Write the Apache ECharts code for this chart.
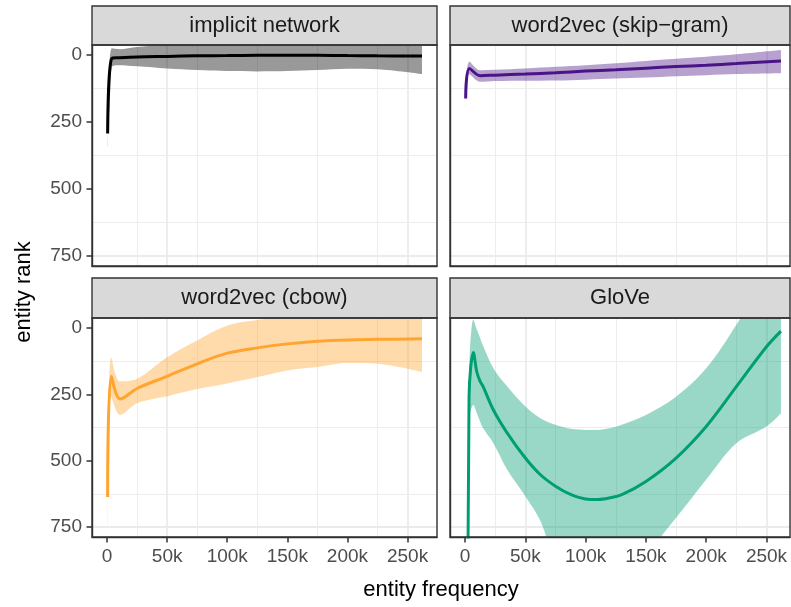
<!DOCTYPE html>
<html>
<head>
<meta charset="utf-8">
<script src="https://cdn.jsdelivr.net/npm/echarts@6/dist/echarts.min.js"></script>
<style>
  html, body { margin: 0; padding: 0; background: #fff; }
  #main { width: 791px; height: 607px; }
</style>
</head>
<body>
<div id="main"></div>
<script>
// tick labels
var xTicks = [0, 50000, 100000, 150000, 200000, 250000];
var yTicks = [0, 250, 500, 750];

// implicit network
var implicitX     = [500, 4000, 10000, 25000, 50000, 75000, 100000, 125000, 150000, 175000, 200000, 225000, 262000];
var implicitLine  = [293, 12, 10, 7, 5, 3, 2, 1, 1, 1, 2, 3, 4];
var implicitUpper = [262, -25, -22, -30, -40, -50, -56, -59, -58, -54, -47, -47, -63];
var implicitLower = [340, 44, 38, 42, 50, 56, 60, 61, 60, 56, 51, 53, 71];

// word2vec (skip-gram)
var skipX     = [500, 3600, 12500, 25000, 50000, 75000, 100000, 125000, 150000, 175000, 200000, 225000, 262000];
var skipLine  = [162, 50, 77, 75, 71, 66, 60, 55, 49, 43, 38, 32, 22];
var skipUpper = [145, 25, 57, 55, 50, 44, 38, 31, 22, 14, 6, -3, -19];
var skipLower = [195, 72, 100, 97, 96, 95, 92, 88, 84, 79, 75, 71, 68];

// word2vec (cbow)
var cbowX     = [500, 3600, 11000, 25000, 50000, 75000, 100000, 125000, 150000, 175000, 200000, 225000, 262000];
var cbowLine  = [637, 182, 268, 228, 182, 135, 95, 75, 60, 50, 45, 43, 41];
var cbowUpper = [590, 110, 201, 191, 110, 47, -9, -30, -40, -45, -42, -50, -84];
var cbowLower = [745, 259, 328, 284, 257, 230, 209, 185, 160, 147, 132, 135, 166];

// GloVe
var gloveX     = [500, 3300, 6900, 9700, 12400, 15000, 23500, 35000, 50000, 62500, 75000, 87500, 100000, 110000, 120000, 130000, 150000, 175000, 200000, 225000, 250000, 262000];
var gloveLine  = [2950, 259, 92, 165, 200, 221, 309, 396, 490, 553, 596, 627, 644, 646, 640, 628, 578, 490, 371, 221, 71, 12];
var gloveUpper = [2800, 200, -32, 5, 37, 68, 152, 221, 296, 340, 365, 380, 384, 384, 378, 365, 328, 259, 152, -12, -200, -297];
var gloveLower = [3100, 350, 290, 320, 352, 378, 434, 534, 634, 727, 871, 890, 904, 908, 902, 891, 845, 715, 571, 434, 371, 321];

var panels = [
  { name: 'implicit network',     color: '#000000', fill: 'rgba(0,0,0,0.4)',        x: implicitX, line: implicitLine, upper: implicitUpper, lower: implicitLower },
  { name: 'word2vec (skip\u2212gram)', color: '#4a1486', fill: 'rgba(74,20,134,0.4)', x: skipX, line: skipLine, upper: skipUpper, lower: skipLower },
  { name: 'word2vec (cbow)',      color: '#FFA42E', fill: 'rgba(255,164,46,0.4)',   x: cbowX, line: cbowLine, upper: cbowUpper, lower: cbowLower },
  { name: 'GloVe',                color: '#009E73', fill: 'rgba(0,158,115,0.4)',    x: gloveX, line: gloveLine, upper: gloveUpper, lower: gloveLower }
];

var FONT = '"Liberation Sans", Arial, Helvetica, sans-serif';
var GRID_COL = '#EBEBEB';
var NONE = 'rgba(0,0,0,0)';
var SMOOTH = 0.35;
var TICK_COL = '#333333';

// panel layout (col, row)
var colLeft = [92, 450], colWidth = [345, 340];
var rowTop = [45, 318], rowHeight = [221, 219];
var stripTop = [6, 278];
var xMax = [274500, 269500];

function cycle(len, idx, col) {
  var a = [];
  for (var i = 0; i < len; i++) a.push(i === idx ? col : NONE);
  return a;
}

function clamp(v, a, b) { return Math.max(Math.min(a, b), Math.min(Math.max(a, b), v)); }

// bezier segments through pixel points, same clamped scheme as echarts' smooth lines
function smoothSegs(pts, s) {
  var n = pts.length, cin = [], cout = [];
  for (var i = 0; i < n; i++) {
    var p = pts[i];
    if (i === 0 || i === n - 1) { cin.push(p); cout.push(p); continue; }
    var pr = pts[i - 1], nx = pts[i + 1];
    var l0 = Math.hypot(p[0] - pr[0], p[1] - pr[1]) || 1e-6;
    var l1 = Math.hypot(nx[0] - p[0], nx[1] - p[1]) || 1e-6;
    var r = l1 / (l0 + l1);
    var ox = clamp(p[0] + (nx[0] - pr[0]) * s * r, p[0], nx[0]);
    var oy = clamp(p[1] + (nx[1] - pr[1]) * s * r, p[1], nx[1]);
    var ix = clamp(p[0] - (ox - p[0]) * l0 / l1, pr[0], p[0]);
    var iy = clamp(p[1] - (oy - p[1]) * l0 / l1, pr[1], p[1]);
    ox = p[0] + (p[0] - ix) * l1 / l0;
    oy = p[1] + (p[1] - iy) * l1 / l0;
    cin.push([ix, iy]); cout.push([ox, oy]);
  }
  var d = '';
  for (var j = 1; j < n; j++) {
    d += ' C' + cout[j - 1][0] + ',' + cout[j - 1][1] + ' ' + cin[j][0] + ',' + cin[j][1] + ' ' + pts[j][0] + ',' + pts[j][1];
  }
  return d;
}

// ribbon drawn as one closed path through the axis scales
function ribbonRenderer(rows, fill) {
  return function (params, api) {
    if (params.dataIndex !== 0) return null;
    var top = [], bot = [];
    rows.forEach(function (r) {
      top.push(api.coord([r[0], r[1]]));
      bot.unshift(api.coord([r[0], r[2]]));
    });
    var d = 'M' + top[0][0] + ',' + top[0][1] + smoothSegs(top, SMOOTH) +
            ' L' + bot[0][0] + ',' + bot[0][1] + smoothSegs(bot, SMOOTH) + ' Z';
    var cs = params.coordSys;
    return {
      type: 'group',
      clipPath: { type: 'rect', shape: { x: cs.x, y: cs.y, width: cs.width, height: cs.height } },
      children: [{ type: 'path', shape: { pathData: d }, style: { fill: fill, stroke: null } }]
    };
  };
}

var grid = [], xAxis = [], yAxis = [], series = [], graphic = [];

panels.forEach(function (p, i) {
  var col = i % 2, row = Math.floor(i / 2);
  grid.push({ left: colLeft[col], top: rowTop[row], width: colWidth[col], height: rowHeight[row], containLabel: false });

  var bottom = row === 1, leftCol = col === 0;

  // major x (ticks, labels, major grid)
  xAxis.push({
    type: 'value', gridIndex: i, position: 'bottom', min: -12500, max: xMax[col], interval: 12500,
    axisLine: { show: true, onZero: false, lineStyle: { color: '#333333', width: 1.4 } },
    axisTick: { show: bottom, inside: false, length: 5.5, customValues: xTicks, lineStyle: { color: TICK_COL, width: 1.5 } },
    axisLabel: {
      show: bottom, customValues: xTicks, margin: 10, color: '#4D4D4D', fontSize: 19, fontFamily: FONT,
      formatter: function (v) { return v === 0 ? '0' : (v / 1000) + 'k'; }
    },
    splitLine: { show: true, lineStyle: { color: cycle(4, 1, GRID_COL), width: 1.8 } }
  });
  // minor x grid
  xAxis.push({
    type: 'value', gridIndex: i, position: 'top', min: -12500, max: xMax[col], interval: 12500,
    axisLine: { show: false, onZero: false }, axisTick: { show: false }, axisLabel: { show: false },
    splitLine: { show: true, lineStyle: { color: cycle(4, 3, GRID_COL), width: 0.9 } }
  });
  // major y
  yAxis.push({
    type: 'value', gridIndex: i, position: 'left', inverse: true, min: -37.5, max: 787.5, interval: 12.5,
    axisLine: { show: true, onZero: false, lineStyle: { color: '#333333', width: 1.4 } },
    axisTick: { show: leftCol, inside: false, length: 5.5, customValues: yTicks, lineStyle: { color: TICK_COL, width: 1.5 } },
    axisLabel: { show: leftCol, customValues: yTicks, margin: 10, color: '#4D4D4D', fontSize: 19, fontFamily: FONT },
    splitLine: { show: true, lineStyle: { color: cycle(20, 3, GRID_COL), width: 1.8 } }
  });
  // minor y grid
  yAxis.push({
    type: 'value', gridIndex: i, position: 'right', inverse: true, min: -37.5, max: 787.5, interval: 12.5,
    axisLine: { show: false, onZero: false }, axisTick: { show: false }, axisLabel: { show: false },
    splitLine: { show: true, lineStyle: { color: cycle(20, 13, GRID_COL), width: 0.9 } }
  });

  var rows = [], mid = [];
  for (var k = 0; k < p.x.length; k++) {
    rows.push([p.x[k], p.upper[k], p.lower[k]]);
    mid.push([p.x[k], p.line[k]]);
  }
  series.push({
    type: 'custom', xAxisIndex: 2 * i, yAxisIndex: 2 * i, silent: true, clip: true, z: 2,
    data: rows, encode: { x: 0, y: [1, 2] },
    renderItem: ribbonRenderer(rows, p.fill)
  });
  series.push({
    type: 'line', xAxisIndex: 2 * i, yAxisIndex: 2 * i, symbol: 'none', silent: true, clip: true, z: 3,
    smooth: SMOOTH, data: mid, lineStyle: { color: p.color, width: 3 }
  });

  // strip
  graphic.push({
    type: 'rect', z: 100,
    shape: { x: colLeft[col], y: stripTop[row], width: colWidth[col], height: rowTop[row] - stripTop[row] },
    style: { fill: '#D9D9D9', stroke: '#333333', lineWidth: 1.4 }
  });
  graphic.push({
    type: 'text', z: 101,
    x: colLeft[col] + colWidth[col] / 2, y: (stripTop[row] + rowTop[row]) / 2,
    style: { text: p.name, fill: '#1A1A1A', font: '22px ' + FONT, align: 'center', verticalAlign: 'middle' }
  });
  // panel border
  graphic.push({
    type: 'rect', z: 100,
    shape: { x: colLeft[col], y: rowTop[row], width: colWidth[col], height: rowHeight[row] },
    style: { fill: null, stroke: '#333333', lineWidth: 1.4 }
  });
});

graphic.push({
  type: 'text', z: 101, x: 441, y: 590,
  style: { text: 'entity frequency', fill: '#000000', font: '22px ' + FONT, align: 'center', verticalAlign: 'middle' }
});
graphic.push({
  type: 'text', z: 101, x: 24, y: 292, rotation: Math.PI / 2,
  style: { text: 'entity rank', fill: '#000000', font: '22px ' + FONT, align: 'center', verticalAlign: 'middle' }
});

var chart = echarts.init(document.getElementById('main'), null, { renderer: 'canvas' });
chart.setOption({
  animation: false,
  backgroundColor: '#ffffff',
  grid: grid,
  xAxis: xAxis,
  yAxis: yAxis,
  series: series,
  graphic: graphic
});
</script>
</body>
</html>
